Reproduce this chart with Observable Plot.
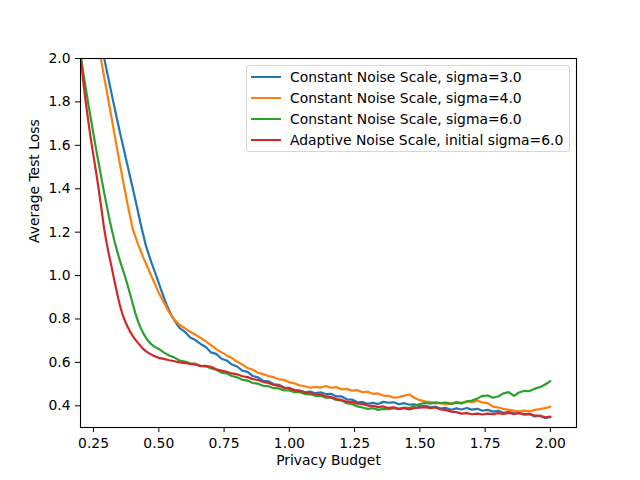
<!DOCTYPE html>
<html>
<head>
<meta charset="utf-8">
<script src="https://cdn.jsdelivr.net/npm/d3@7"></script>
<script src="https://cdn.jsdelivr.net/npm/@observablehq/plot@0.6"></script>
<style>
  html, body { margin: 0; padding: 0; background: white; }
  #wrap { position: relative; width: 640px; height: 480px; font-family: "DejaVu Sans", sans-serif; }
  #legend { position: absolute; left: 246px; top: 65px; width: 322px; height: 85px;
            border: 1px solid #d6d6d6; border-radius: 3px; background: rgba(255,255,255,0.8); }
  .row { position: absolute; left: 0; height: 20px; width: 320px; }
  .swatch { position: absolute; left: 4px; top: 9px; width: 30px; height: 2px; }
  .lab { position: absolute; left: 43px; top: 0; line-height: 20px; font-size: 13.9px; color: black; white-space: nowrap; }
</style>
</head>
<body>
<div id="wrap"></div>
<script>
const seriesNames = [
  "Constant Noise Scale, sigma=3.0",
  "Constant Noise Scale, sigma=4.0",
  "Constant Noise Scale, sigma=6.0",
  "Adaptive Noise Scale, initial sigma=6.0"
];
const seriesColors = ["#1f77b4", "#ff7f0e", "#2ca02c", "#d62728"];
const xTicks = [0.25, 0.5, 0.75, 1.0, 1.25, 1.5, 1.75, 2.0];
const yTicks = [0.4, 0.6, 0.8, 1.0, 1.2, 1.4, 1.6, 1.8, 2.0];

const tailBudget = [0.60,0.62,0.64,0.66,0.68,0.70,0.72,0.74,0.76,0.78,0.80,0.82,0.84,0.86,0.88,0.90,0.92,0.94,0.96,0.98,1.00,1.02,1.04,1.06,1.08,1.10,1.12,1.14,1.16,1.18,1.20,1.22,1.24,1.26,1.28,1.30,1.32,1.34,1.36,1.38,1.40,1.42,1.44,1.46,1.48,1.50,1.52,1.54,1.56,1.58,1.60,1.62,1.64,1.66,1.68,1.70,1.72,1.74,1.76,1.78,1.80,1.82,1.84,1.86,1.88,1.90,1.92,1.94,1.96,1.98,2.00];

// sigma = 3.0
const blueHeadBudget = [0.27,0.29,0.31,0.33,0.35,0.37,0.39,0.41,0.43,0.45,0.47,0.49,0.51,0.53,0.55,0.57,0.58];
const blueHeadLoss = [2.12,2.005,1.89,1.775,1.665,1.56,1.455,1.35,1.24,1.14,1.065,1.0,0.93,0.865,0.812,0.775,0.758];
const blueTailLoss = [.741,.715,.703,.685,.671,.646,.639,.617,.609,.590,
  .581,.562,.556,.537,.531,.515,.513,.499,.497,.484,
  .483,.471,.470,.462,.466,.458,.462,.454,.455,.443,
  .443,.430,.429,.416,.417,.409,.414,.408,.418,.414,
  .416,.407,.412,.405,.407,.397,.401,.393,.396,.387,
  .390,.382,.388,.383,.390,.382,.386,.377,.381,.373,
  .377,.368,.372,.364,.367,.359,.361,.351,.353,.344,
  .348];

// sigma = 4.0
const orangeHeadBudget = [0.26,0.28,0.30,0.32,0.34,0.36,0.38,0.40,0.42,0.44,0.46,0.48,0.50,0.52,0.54,0.56,0.58];
const orangeHeadLoss = [2.10,1.986,1.853,1.72,1.585,1.455,1.33,1.215,1.145,1.085,1.03,0.975,0.92,0.875,0.83,0.797,0.772];
const orangeTailLoss = [.757,.741,.727,.713,.697,.679,.661,.647,.632,.620,
  .603,.590,.574,.566,.552,.546,.537,.532,.522,.519,
  .508,.503,.494,.490,.483,.487,.484,.491,.483,.486,
  .476,.478,.470,.472,.463,.465,.455,.457,.447,.446,
  .437,.440,.447,.452,.436,.426,.421,.417,.411,.413,
  .406,.410,.418,.414,.421,.417,.423,.416,.412,.396,
  .392,.386,.381,.378,.375,.378,.374,.381,.385,.389,
  .396];

// sigma = 6.0
const greenHeadBudget = [0.20,0.21,0.22,0.23,0.24,0.25,0.26,0.27,0.28,0.29,0.30,0.31,0.32,0.33,0.34,0.35,0.36,0.37,0.38,0.39,0.40,0.41,0.42,0.43,0.44,0.45,0.46,0.47,0.48,0.50,0.52,0.54,0.56,0.58];
const greenHeadLoss = [2.015,1.94,1.865,1.79,1.72,1.65,1.58,1.515,1.45,1.385,1.325,1.265,1.21,1.16,1.115,1.072,1.035,0.998,0.958,0.915,0.87,0.827,0.79,0.76,0.735,0.715,0.698,0.685,0.675,0.662,0.645,0.632,0.622,0.608];
const greenTailLoss = [.604,.596,.594,.584,.583,.572,.566,.553,.549,.537,
  .531,.520,.516,.505,.502,.492,.490,.481,.480,.471,
  .471,.463,.463,.454,.453,.446,.446,.437,.437,.427,
  .424,.412,.408,.397,.392,.386,.389,.381,.386,.384,
  .389,.385,.392,.389,.401,.408,.414,.410,.416,.412,
  .415,.409,.414,.411,.420,.424,.433,.446,.447,.437,
  .443,.457,.463,.446,.461,.469,.468,.479,.486,.498,
  .514];

// adaptive, initial sigma = 6.0
const redHeadBudget = [0.20,0.21,0.22,0.23,0.24,0.25,0.26,0.27,0.28,0.29,0.30,0.31,0.32,0.33,0.34,0.35,0.36,0.37,0.38,0.39,0.40,0.41,0.42,0.43,0.44,0.45,0.46,0.47,0.48,0.50,0.52,0.54,0.56,0.58];
const redHeadLoss = [2.02,1.90,1.80,1.71,1.625,1.55,1.475,1.395,1.31,1.22,1.15,1.09,1.035,0.975,0.92,0.868,0.825,0.792,0.765,0.742,0.722,0.705,0.69,0.676,0.662,0.652,0.644,0.637,0.630,0.621,0.616,0.610,0.605,0.600];
const redTailLoss = [.597,.593,.590,.583,.584,.580,.568,.562,.557,.549,
  .545,.536,.532,.523,.519,.510,.505,.496,.492,.483,
  .480,.472,.469,.461,.459,.453,.452,.443,.440,.431,
  .427,.419,.418,.410,.409,.401,.400,.394,.397,.390,
  .393,.386,.389,.383,.390,.391,.394,.389,.392,.383,
  .380,.373,.371,.364,.366,.361,.364,.360,.364,.361,
  .366,.363,.367,.363,.366,.362,.363,.355,.355,.347,
  .350];

const seriesData = [
  [blueHeadBudget.concat(tailBudget), blueHeadLoss.concat(blueTailLoss)],
  [orangeHeadBudget.concat(tailBudget), orangeHeadLoss.concat(orangeTailLoss)],
  [greenHeadBudget.concat(tailBudget), greenHeadLoss.concat(greenTailLoss)],
  [redHeadBudget.concat(tailBudget), redHeadLoss.concat(redTailLoss)]
];
const rows = seriesData.flatMap(([bs, ls], k) =>
  bs.map((b, i) => ({budget: b, loss: ls[i], name: seriesNames[k]})));

const chart = Plot.plot({
  width: 640, height: 480,
  marginLeft: 80, marginRight: 64, marginTop: 58, marginBottom: 53,
  style: {fontFamily: "DejaVu Sans", fontSize: "13.9px", background: "white", color: "black"},
  x: {domain: [0.2, 2.1]},
  y: {domain: [0.3, 2.0]},
  color: {domain: seriesNames, range: seriesColors},
  marks: [
    Plot.line(rows, {x: "budget", y: "loss", z: "name", stroke: "name", strokeWidth: 2.2, clip: true}),
    Plot.frame({stroke: "black", strokeWidth: 1.1}),
    Plot.axisX({ticks: xTicks, tickFormat: d => d.toFixed(2), tickSize: 5, tickPadding: 5.5, label: null, fontSize: "13.9px"}),
    Plot.axisY({ticks: yTicks, tickFormat: d => d.toFixed(1), tickSize: 5, tickPadding: 5, label: null, fontSize: "13.9px"}),
    Plot.text(["Privacy Budget"], {text: d => d, frameAnchor: "bottom", dy: 37, fontSize: 13.9}),
    Plot.text(["Average Test Loss"], {text: d => d, frameAnchor: "left", rotate: -90, dx: -46, fontSize: 13.9})
  ]
});

const wrap = document.getElementById("wrap");
wrap.appendChild(chart);
const legend = document.createElement("div");
legend.id = "legend";
const rowTops = [0.7, 21.7, 43.3, 64.3];
seriesNames.forEach((n, i) => {
  const r = document.createElement("div");
  r.className = "row";
  r.style.top = rowTops[i] + "px";
  const sw = document.createElement("div");
  sw.className = "swatch";
  sw.style.background = seriesColors[i];
  const lb = document.createElement("div");
  lb.className = "lab";
  lb.textContent = n;
  r.appendChild(sw); r.appendChild(lb);
  legend.appendChild(r);
});
wrap.appendChild(legend);
</script>
</body>
</html>
